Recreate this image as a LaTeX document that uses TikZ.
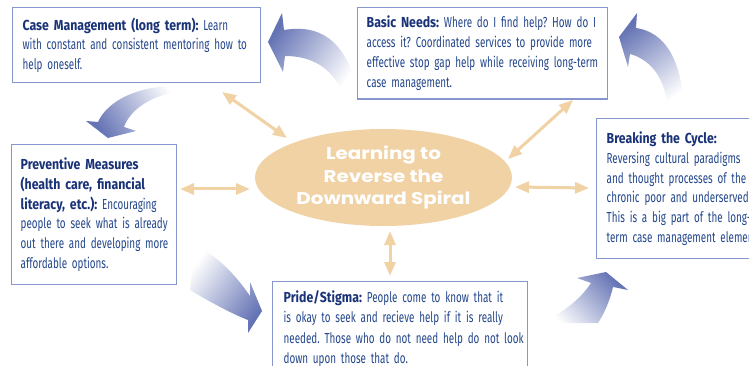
\documentclass[tikz,border=0pt]{standalone}
\usepackage{fontspec}
\setmainfont{Fira Sans}[FakeStretch=0.68, BoldFeatures={FakeStretch=0.85}]
\newfontfamily\ellfont{Poppins}[FakeStretch=1.17]
\usetikzlibrary{arrows.meta,shapes.geometric}
\definecolor{boxline}{RGB}{135,150,205}
\definecolor{txtblue}{RGB}{35,70,140}
\definecolor{ttlblue}{RGB}{25,50,120}
\definecolor{peach}{RGB}{240,210,165}
\definecolor{arrowblue}{RGB}{100,115,180}
\newcommand\boxtitle[1]{{\bfseries\color{ttlblue}#1}}
\newcommand\oneline[1]{\mbox{#1}}
\frenchspacing
\tikzset{
  infobox/.style={draw=boxline, line width=1.3pt, fill=white, align=left,
    anchor=north west, text=txtblue, inner xsep=10pt,
    font=\fontsize{14.5}{19.8}\selectfont},
  dblarrow/.style={draw=peach, line width=3pt,
    {Triangle[width=11pt,length=14pt]}-{Triangle[width=11pt,length=14pt]}},
  flowarrow/.style={top color=arrowblue, bottom color=white, draw=none}
}
\begin{document}
\begin{tikzpicture}[x=1pt,y=-1pt]
\useasboundingbox[fill=white] (0,0) rectangle (749,366);

% curved blue arrows
\shade[flowarrow, shading angle=56] (268,42) -- (282,13) -- (284,30)
  .. controls (320,24) and (345,40) .. (358,90) -- (342,92)
  .. controls (332,68) and (312,56) .. (285,56) -- (283,72) -- cycle;
\shade[flowarrow, shading angle=37] (619,37) -- (637,13) -- (636,28)
  .. controls (665,32) and (682,60) .. (684,110) -- (668,110)
  .. controls (666,80) and (652,60) .. (630,54) -- (628,67) -- cycle;
\shade[flowarrow, shading angle=123] (108,138) -- (86,121) -- (98,122)
  .. controls (108,100) and (140,84) .. (185,86) -- (185,90)
  .. controls (150,95) and (130,110) .. (124,127) -- (136,131) -- cycle;
\shade[flowarrow, shading angle=234] (262,311) -- (250,282) -- (250,296)
  .. controls (232,270) and (215,255) .. (195,245) -- (190,290)
  .. controls (215,305) and (235,315) .. (248,320) -- (248,333) -- cycle;
\shade[flowarrow, shading angle=314] (606,272) -- (628,290) -- (613,287)
  .. controls (610,300) and (605,312) .. (598,323) -- (540,323)
  .. controls (560,315) and (580,300) .. (591,283) -- (577,278) -- cycle;

% central ellipse
\node[ellipse, fill=peach, minimum width=257pt, minimum height=97pt, inner sep=0pt,
  text=white, align=center, font=\ellfont\bfseries\fontsize{17}{22.5}\selectfont]
  (ell) at (383.5,177.5) {Learning to\\Reverse the\\Downward Spiral};

% boxes
\node[infobox, text width=228pt, inner ysep=10pt] (cm) at (12,7)
  {\oneline{\boxtitle{Case Management (long term):} Learn}\\
   \oneline{with constant and consistent mentoring how to}\\
   \oneline{help oneself.}};
\node[infobox, text width=232pt, inner xsep=9pt, inner ysep=8.5pt] (bn) at (357,7)
  {\oneline{\boxtitle{Basic Needs:} Where do I find help? How do I}\\
   \oneline{access it? Coordinated services to provide more}\\
   \oneline{effective stop gap help while receiving long-term}\\
   \oneline{case management.}};
\node[infobox, text width=147pt, inner xsep=9pt, inner ysep=13pt] (pm) at (11,144)
  {\oneline{\boxtitle{Preventive Measures}}\\
   \oneline{\boxtitle{(health care, financial}}\\
   \oneline{\boxtitle{literacy, etc.):} Encouraging}\\
   \oneline{people to seek what is already}\\
   \oneline{out there and developing more}\\
   \oneline{affordable options.}};
\node[infobox, text width=165pt, inner ysep=13pt] (bc) at (596,118)
  {\oneline{\boxtitle{Breaking the Cycle:}}\\
   \oneline{Reversing cultural paradigms}\\
   \oneline{and thought processes of the}\\
   \oneline{chronic poor and underserved.}\\
   \oneline{This is a big part of the long-}\\
   \oneline{term case management element.}};
\node[infobox, text width=233pt, inner xsep=11pt, inner ysep=9pt,
  font=\fontsize{14.5}{20.3}\selectfont] (ps) at (272,281)
  {\oneline{\boxtitle{Pride/Stigma:} People come to know that it}\\
   \oneline{is okay to seek and recieve help if it is really}\\
   \oneline{needed. Those who do not need help do not look}\\
   \oneline{down upon those that do.}};

% double-headed connectors
\coordinate (cmEnd) at (222,92);
\coordinate (cmEll) at (287,138);
\coordinate (bnEnd) at (573,100);
\coordinate (bnEll) at (508,159);
\coordinate (pmEnd) at (180,189);
\coordinate (pmEll) at (250,189);
\coordinate (bcEll) at (515,187);
\coordinate (bcEnd) at (589,188);
\coordinate (psEll) at (390,231);
\coordinate (psEnd) at (390,276);
\draw[dblarrow] (cmEnd) -- (cmEll);
\draw[dblarrow] (bnEnd) -- (bnEll);
\draw[dblarrow] (pmEnd) -- (pmEll);
\draw[dblarrow] (bcEll) -- (bcEnd);
\draw[dblarrow] (psEll) -- (psEnd);
\end{tikzpicture}
\end{document}
